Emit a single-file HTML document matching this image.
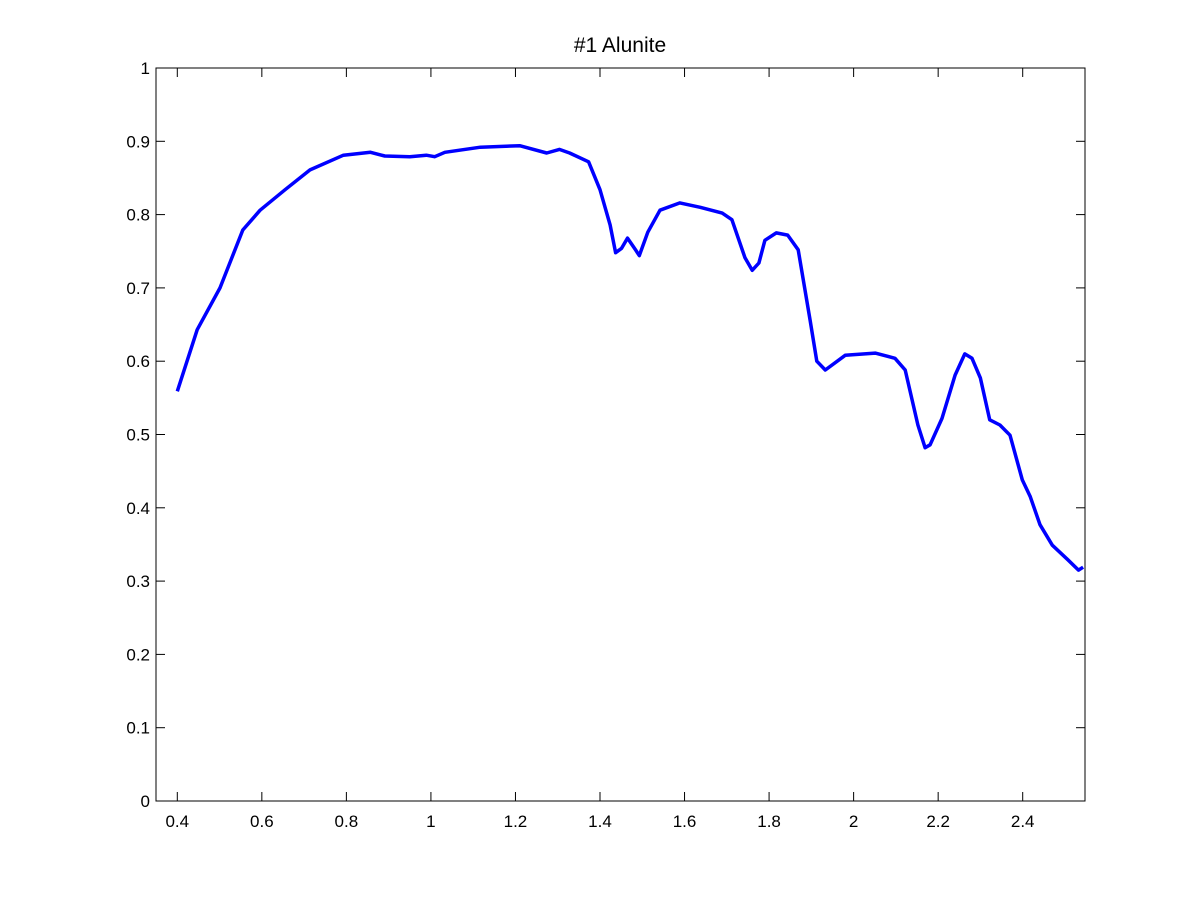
<!DOCTYPE html>
<html><head><meta charset="utf-8"><style>
html,body{margin:0;padding:0;background:#fff;}
svg text{font-family:"Liberation Sans",Arial,sans-serif;}
</style></head><body>
<svg id="chart" width="1200" height="900" xmlns="http://www.w3.org/2000/svg">
<rect width="1200" height="900" fill="#fff"/>
<text x="620" y="52" font-size="21" text-anchor="middle">#1 Alunite</text>
<g id="axes"></g>
<path id="line" fill="none" stroke="#0000ff" stroke-width="3.5" stroke-linejoin="round"/>
<rect x="156" y="68" width="929" height="733" fill="none" stroke="#000" stroke-width="1"/>
</svg>
<script>
const xTicks=[0.4,0.6,0.8,1,1.2,1.4,1.6,1.8,2,2.2,2.4];
const yTicks=[0,0.1,0.2,0.3,0.4,0.5,0.6,0.7,0.8,0.9,1];
const wavelengths=[0.4,0.447,0.501,0.555,0.596,0.655,0.714,0.793,0.857,0.891,0.950,0.989,1.009,1.033,1.117,1.210,1.274,1.304,1.328,1.373,1.400,1.424,1.437,1.451,1.465,1.484,1.493,1.513,1.542,1.589,1.637,1.689,1.712,1.743,1.760,1.776,1.790,1.817,1.844,1.869,1.897,1.913,1.933,1.980,2.051,2.098,2.122,2.152,2.169,2.181,2.209,2.240,2.263,2.280,2.300,2.322,2.346,2.370,2.399,2.418,2.441,2.470,2.507,2.532,2.543];
const reflectance=[0.559,0.643,0.700,0.779,0.806,0.834,0.861,0.881,0.885,0.880,0.879,0.881,0.879,0.885,0.892,0.894,0.884,0.889,0.884,0.872,0.834,0.786,0.748,0.754,0.768,0.752,0.744,0.776,0.806,0.816,0.810,0.802,0.793,0.741,0.724,0.734,0.765,0.775,0.772,0.752,0.656,0.600,0.588,0.608,0.611,0.604,0.588,0.513,0.482,0.486,0.522,0.581,0.610,0.604,0.577,0.520,0.513,0.499,0.438,0.415,0.377,0.349,0.329,0.315,0.319];
const X=v=>177.3+(v-0.4)*422.7;
const Y=v=>801-v*733;
const NS="http://www.w3.org/2000/svg";
const ax=document.getElementById('axes');
function mk(tag,attrs,parent){const e=document.createElementNS(NS,tag);for(const k in attrs)e.setAttribute(k,attrs[k]);parent.appendChild(e);return e;}
xTicks.forEach(t=>{
  const x=X(t);
  const a=mk('line',{x1:x,x2:x,y1:801,y2:792,stroke:'#000'},ax);
  
  
  const b=mk('line',{x1:x,x2:x,y1:68,y2:77,stroke:'#000'},ax);
  
  
  const l=mk('text',{x:x,y:827,'font-size':17,'text-anchor':'middle'},ax);
  l.textContent=String(t);
  
  
});
yTicks.forEach(t=>{
  const y=Y(t);
  const a=mk('line',{x1:156,x2:165,y1:y,y2:y,stroke:'#000'},ax);
  
  
  const b=mk('line',{x1:1076,x2:1085,y1:y,y2:y,stroke:'#000'},ax);
  
  
  const l=mk('text',{x:150,y:y+6,'font-size':17,'text-anchor':'end'},ax);
  l.textContent=String(t);
  
  
});
document.getElementById('line').setAttribute('d',wavelengths.map((w,i)=>(i?'L':'M')+X(w).toFixed(1)+' '+Y(reflectance[i]).toFixed(1)).join(' '));
</script>
</body></html>
